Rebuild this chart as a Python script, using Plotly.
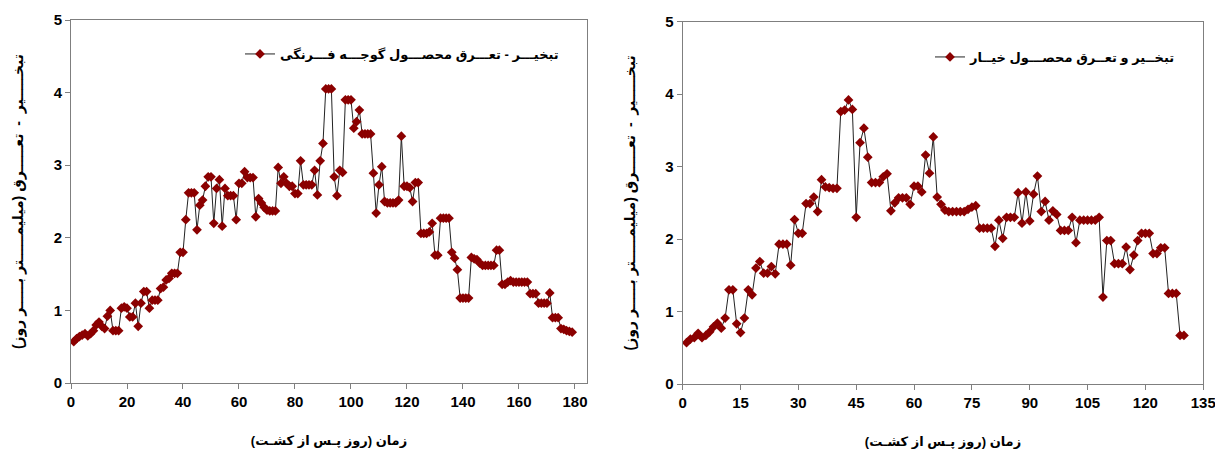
import plotly.graph_objects as go

# ---- Data: tomato (left panel) ----
tomato_days = list(range(1, 180))
tomato_et = [
    0.57, 0.61, 0.64, 0.66, 0.68, 0.65, 0.68, 0.72, 0.80, 0.84,
    0.78, 0.75, 0.92, 1.00, 0.72, 0.72, 0.72, 1.03, 1.05, 1.03,
    0.91, 0.91, 1.10, 0.78, 1.10, 1.26, 1.26, 1.03, 1.14, 1.14,
    1.14, 1.30, 1.32, 1.42, 1.44, 1.51, 1.51, 1.51, 1.80, 1.80,
    2.25, 2.62, 2.62, 2.62, 2.11, 2.45, 2.52, 2.71, 2.84, 2.84,
    2.20, 2.68, 2.80, 2.16, 2.68, 2.58, 2.58, 2.58, 2.25, 2.75,
    2.75, 2.91, 2.83, 2.83, 2.83, 2.29, 2.54, 2.48, 2.42, 2.38,
    2.37, 2.37, 2.37, 2.97, 2.75, 2.84, 2.75, 2.71, 2.71, 2.61,
    2.61, 3.06, 2.73, 2.73, 2.73, 2.73, 2.93, 2.59, 3.06, 3.30,
    4.05, 4.05, 4.05, 2.84, 2.58, 2.93, 2.90, 3.90, 3.90, 3.90,
    3.51, 3.60, 3.76, 3.43, 3.43, 3.43, 3.43, 2.89, 2.34, 2.73,
    2.98, 2.50, 2.48, 2.48, 2.48, 2.48, 2.52, 3.40, 2.71, 2.71,
    2.69, 2.50, 2.76, 2.76, 2.06, 2.06, 2.06, 2.08, 2.20, 1.76,
    1.76, 2.27, 2.27, 2.27, 2.27, 1.80, 1.72, 1.56, 1.17, 1.17,
    1.17, 1.17, 1.73, 1.71, 1.70, 1.65, 1.62, 1.62, 1.62, 1.62,
    1.62, 1.83, 1.83, 1.36, 1.36, 1.39, 1.41, 1.39, 1.39, 1.39,
    1.39, 1.39, 1.39, 1.23, 1.23, 1.23, 1.10, 1.10, 1.10, 1.10,
    1.24, 0.90, 0.90, 0.90, 0.75, 0.74, 0.72, 0.71, 0.70,
]

# ---- Data: cucumber (right panel) ----
cucumber_days = list(range(1, 131))
cucumber_et = [
    0.57, 0.62, 0.64, 0.70, 0.64, 0.67, 0.72, 0.79, 0.84, 0.77,
    0.91, 1.30, 1.30, 0.83, 0.71, 0.91, 1.30, 1.23, 1.60, 1.69,
    1.53, 1.53, 1.62, 1.52, 1.93, 1.93, 1.93, 1.64, 2.27, 2.08,
    2.08, 2.49, 2.49, 2.58, 2.38, 2.82, 2.72, 2.71, 2.70, 2.70,
    3.76, 3.78, 3.92, 3.79, 2.30, 3.33, 3.53, 3.13, 2.78, 2.78,
    2.78, 2.86, 2.90, 2.39, 2.50, 2.57, 2.57, 2.57, 2.48, 2.73,
    2.73, 2.65, 3.16, 2.91, 3.41, 2.58, 2.48, 2.40, 2.38, 2.38,
    2.38, 2.38, 2.38, 2.41, 2.44, 2.46, 2.15, 2.15, 2.15, 2.15,
    1.90, 2.26, 2.01, 2.30, 2.30, 2.30, 2.64, 2.22, 2.65, 2.25,
    2.62, 2.87, 2.38, 2.52, 2.26, 2.39, 2.34, 2.12, 2.12, 2.12,
    2.30, 1.95, 2.26, 2.26, 2.26, 2.26, 2.26, 2.30, 1.20, 1.98,
    1.98, 1.66, 1.66, 1.66, 1.89, 1.58, 1.78, 1.98, 2.08, 2.08,
    2.08, 1.80, 1.80, 1.88, 1.88, 1.25, 1.25, 1.25, 0.67, 0.67,
]

tomato_name = "تبخیـــر - تعـــرق محصـــول گوجـــه فـــرنگی"
cucumber_name = "تبخــیر و تعــرق محصـــول خیــار"
x_title = "زمان (روز پـس از کشـت)"
y_title = "تبخـــــیر  -  تعـــــرق (میلیمـــــتر بـــــر روز)"

left_xticks = list(range(0, 181, 20))
right_xticks = list(range(0, 136, 15))
yticks = [0, 1, 2, 3, 4, 5]

FONT = "Liberation Sans, Arial, DejaVu Sans, sans-serif"
MARK = "#8b0000"
AX = "#7f7f7f"

fig = go.Figure()
fig.add_trace(go.Scatter(
    x=tomato_days, y=tomato_et, mode="lines+markers", name=tomato_name,
    line=dict(color="#222222", width=1),
    marker=dict(symbol="diamond", size=7.5, color=MARK, line=dict(width=0)),
    xaxis="x", yaxis="y", legend="legend",
))
fig.add_trace(go.Scatter(
    x=cucumber_days, y=cucumber_et, mode="lines+markers", name=cucumber_name,
    line=dict(color="#222222", width=1),
    marker=dict(symbol="diamond", size=7.5, color=MARK, line=dict(width=0)),
    xaxis="x2", yaxis="y2", legend="legend2",
))

axis_common = dict(
    showgrid=False, zeroline=False, showline=True, linecolor=AX, linewidth=1,
    mirror=True, ticks="outside", ticklen=5, tickcolor=AX, tickwidth=1,
    tickfont=dict(family=FONT, size=15, color="black", weight="bold"),
    automargin=False, ticklabeloverflow="allow",
)
xtitle_font = dict(family=FONT, size=13, color="black", weight="bold")
ytitle_font = dict(family=FONT, size=14, color="black", weight="bold")

fig.update_layout(
    width=1215, height=457,
    margin=dict(l=0, r=0, t=0, b=0, autoexpand=False),
    paper_bgcolor="white", plot_bgcolor="white",
    showlegend=True,
    xaxis=dict(domain=[71/1215, 587/1215], range=[0, 184.3], tickvals=left_xticks,
               anchor="y", title=dict(text=x_title, font=xtitle_font, standoff=26),
               **axis_common),
    yaxis=dict(domain=[(457-383)/457, (457-20)/457], range=[0, 5], tickvals=yticks,
               anchor="x", title=dict(text=y_title, font=ytitle_font, standoff=26),
               **axis_common),
    xaxis2=dict(domain=[682.7/1215, 1203.3/1215], range=[0, 135.02], tickvals=right_xticks,
                anchor="y2", title=dict(text=x_title, font=xtitle_font, standoff=26),
                **axis_common),
    yaxis2=dict(domain=[(457-384)/457, (457-21.7)/457], range=[0, 5], tickvals=yticks,
                anchor="x2", title=dict(text=y_title, font=ytitle_font, standoff=26),
                **axis_common),
    legend=dict(x=240/1215, y=1-54/457, xanchor="left", yanchor="middle",
                bgcolor="rgba(0,0,0,0)", borderwidth=0,
                font=dict(family=FONT, size=13, color="black", weight="bold")),
    legend2=dict(x=930/1215, y=1-57/457, xanchor="left", yanchor="middle",
                 bgcolor="rgba(0,0,0,0)", borderwidth=0,
                 font=dict(family=FONT, size=13, color="black", weight="bold")),
)

fig.write_html("out.html")
